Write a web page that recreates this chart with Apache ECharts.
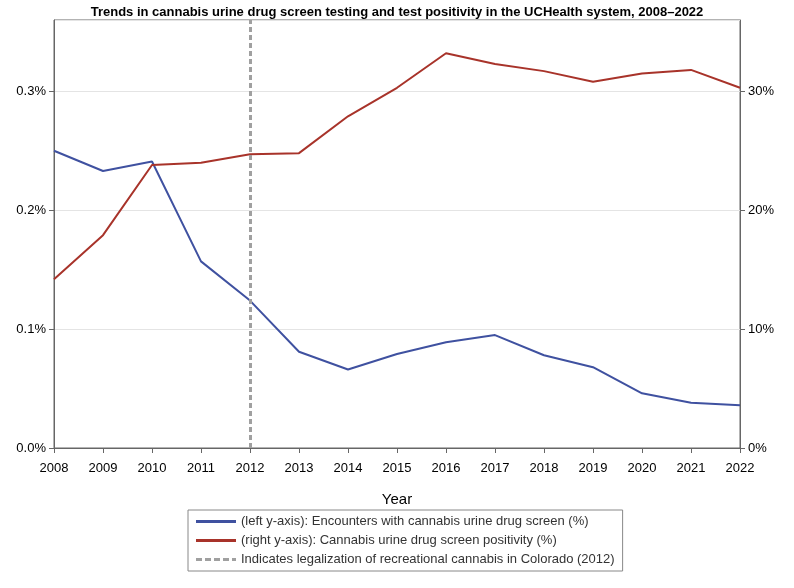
<!DOCTYPE html>
<html>
<head>
<meta charset="UTF-8">
<script src="https://cdn.jsdelivr.net/npm/echarts@6/dist/echarts.min.js"></script>
<style>body{margin:0}#main{width:794px;height:588px}</style>
</head>
<body>
<div id="main"></div>
<script>
    // data
    let years = ['2008','2009','2010','2011','2012','2013','2014','2015','2016','2017','2018','2019','2020','2021','2022'];
    let encounters = [0.250,0.233,0.241,0.157,0.124,0.081,0.066,0.079,0.089,0.095,0.078,0.068,0.046,0.038,0.036];
    let positivity = [14.2,17.9,23.8,24.0,24.7,24.8,27.9,30.3,33.2,32.3,31.7,30.8,31.5,31.8,30.3];
    let nameBlue = '(left y-axis): Encounters with cannabis urine drug screen (%)';
    let nameRed = '(right y-axis): Cannabis urine drug screen positivity (%)';
    let nameRef = 'Indicates legalization of recreational cannabis in Colorado (2012)';
    let font = 'Arial, Liberation Sans, sans-serif';
    let dashIcon = 'path://M0,0h6v3h-6zM9,0h6v3h-6zM18,0h6v3h-6zM27,0h6v3h-6zM36,0h4v3h-4z';

    let myChart = echarts.init(document.getElementById('main'));
    myChart.setOption({
        animation: false,
        textStyle: {fontFamily: font},
        title: {
            text: 'Trends in cannabis urine drug screen testing and test positivity in the UCHealth system, 2008\u20132022',
            left: 'center', top: 1,
            textStyle: {fontSize: 13, fontWeight: 'bold', color: '#000'}
        },
        grid: {left: 54, right: 54, top: 20, bottom: 140, show: true, borderColor: '#666', borderWidth: 1},
        legend: {
            orient: 'vertical', left: 188, top: 510,
            borderColor: '#888', borderWidth: 1, padding: [5, 8],
            itemWidth: 40, itemHeight: 3, itemGap: 6,
            textStyle: {fontSize: 13, color: '#333'},
            data: [
                {name: nameBlue, icon: 'rect'},
                {name: nameRed, icon: 'rect'},
                {name: nameRef, icon: dashIcon, itemStyle: {color: '#a0a0a0'}}
            ]
        },
        xAxis: {
            type: 'category', data: years, boundaryGap: false,
            name: 'Year', nameLocation: 'middle', nameGap: 44,
            nameTextStyle: {fontSize: 15, color: '#000'},
            axisLine: {lineStyle: {color: '#666'}},
            axisTick: {lineStyle: {color: '#666'}},
            axisLabel: {fontSize: 13, color: '#000', interval: 0, margin: 14}
        },
        yAxis: [
            {
                type: 'value', min: 0, max: 0.36, interval: 0.1,
                axisLine: {show: true, lineStyle: {color: '#666'}},
                axisTick: {show: true},
                splitLine: {lineStyle: {color: '#e4e4e4'}},
                axisLabel: {fontSize: 13, color: '#000', showMaxLabel: false,
                    formatter: v => v.toFixed(1) + '%'}
            },
            {
                type: 'value', min: 0, max: 36, interval: 10,
                axisLine: {show: true, lineStyle: {color: '#666'}},
                axisTick: {show: true},
                splitLine: {show: false},
                axisLabel: {fontSize: 13, color: '#000', showMaxLabel: false,
                    formatter: v => v + '%'}
            }
        ],
        series: [
            {
                name: nameBlue, type: 'line', yAxisIndex: 0, data: encounters,
                symbol: 'none', color: '#3f51a0', lineStyle: {width: 2},
                markLine: {
                    symbol: 'none', silent: true, label: {show: false},
                    lineStyle: {color: '#a0a0a0', type: [5, 3], width: 3},
                    data: [{xAxis: '2012'}]
                }
            },
            {
                name: nameRed, type: 'line', yAxisIndex: 1, data: positivity,
                symbol: 'none', color: '#a8332a', lineStyle: {width: 2}
            },
            {name: nameRef, type: 'line', data: [], color: '#a0a0a0'}
        ]
    });
</script>
</body>
</html>
